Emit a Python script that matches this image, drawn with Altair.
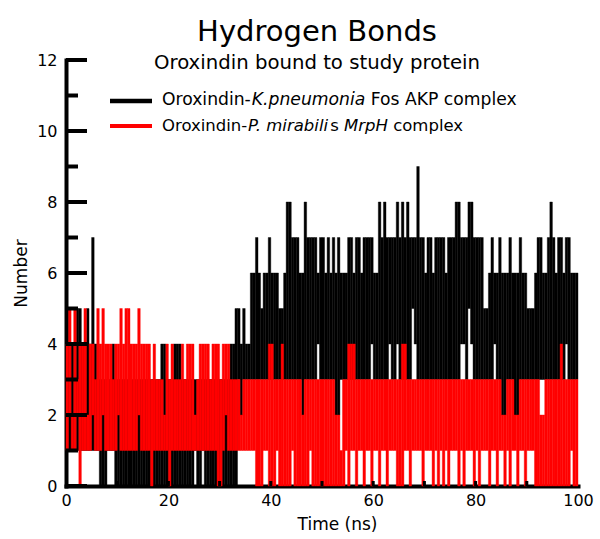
import altair as alt
import pandas as pd

# ---------------- data (0.5 ns bins) ----------------
STEP = 0.5

# Oroxindin-K.pneumonia Fos AKP complex (black): lowest / highest H-bond count per bin
black_hi = [
    5, 4, 4, 4, 5, 5, 4, 4, 5, 4, 7, 4, 4, 3, 3, 3, 3, 3, 4, 3,   # 0-10
    3, 3, 3, 3, 3, 3, 3, 3, 3, 3, 3, 3, 3, 3, 3, 3, 3, 4, 4, 3,   # 10-20
    3, 3, 4, 4, 4, 3, 3, 3, 3, 3, 3, 3, 3, 3, 3, 3, 3, 3, 3, 3,   # 20-30
    3, 3, 3, 3, 4, 4, 5, 5, 4, 5, 4, 4, 6, 6, 7, 6, 5, 6, 6, 7,   # 30-40
    6, 6, 6, 5, 5, 6, 8, 8, 7, 7, 7, 6, 6, 8, 7, 7, 7, 7, 6, 7,   # 40-50
    7, 6, 7, 6, 7, 6, 7, 6, 6, 6, 7, 7, 6, 7, 7, 6, 7, 7, 7, 7,   # 50-60
    6, 6, 8, 7, 8, 7, 7, 7, 7, 8, 7, 8, 7, 8, 7, 7, 7, 9, 7, 7,   # 60-70
    6, 7, 7, 6, 7, 7, 7, 7, 6, 7, 7, 7, 8, 8, 7, 7, 7, 8, 8, 7,   # 70-80
    7, 7, 7, 5, 5, 6, 7, 6, 6, 7, 6, 6, 6, 7, 6, 6, 6, 7, 6, 6,   # 80-90
    5, 5, 5, 6, 7, 7, 6, 6, 7, 8, 7, 6, 7, 7, 6, 7, 7, 6, 6, 6,   # 90-100
]
black_lo = [
    1, 1, 1, 1, 1, 1, 1, 1, 1, 1, 1, 1, 1, 0, 0, 0, 1, 1, 1, 0,
    0, 0, 0, 0, 0, 0, 0, 0, 0, 0, 0, 0, 0, 0, 0, 0, 0, 0, 0, 0,
    0, 0, 0, 0, 0, 0, 0, 0, 0, 0, 1, 0, 0, 1, 0, 0, 0, 0, 0, 0,
    0, 0, 0, 0, 0, 0, 0, 3, 2, 3, 3, 3, 3, 3, 3, 3, 3, 3, 3, 3,
    3, 3, 3, 3, 3, 3, 3, 3, 3, 3, 3, 3, 2, 3, 3, 3, 3, 3, 4, 3,
    3, 3, 3, 3, 3, 2, 2, 3, 3, 3, 3, 3, 3, 3, 3, 3, 3, 3, 3, 4,
    3, 3, 3, 3, 3, 3, 4, 3, 3, 4, 3, 3, 3, 3, 3, 5, 4, 3, 3, 3,
    3, 3, 3, 3, 3, 3, 3, 3, 3, 3, 3, 3, 3, 3, 4, 4, 3, 5, 4, 3,
    3, 3, 3, 3, 3, 3, 3, 4, 3, 3, 2, 2, 3, 3, 3, 2, 2, 3, 3, 3,
    3, 3, 3, 3, 3, 3, 3, 3, 3, 3, 3, 3, 3, 3, 3, 4, 3, 3, 3, 3,
]

# Oroxindin-P. mirabilis MrpH complex (red)
red_hi = [
    4, 5, 2, 5, 3, 4, 4, 5, 2, 4, 4, 3, 5, 4, 5, 4, 4, 4, 3, 4,
    4, 5, 4, 5, 5, 4, 4, 4, 5, 4, 4, 4, 4, 3, 4, 3, 3, 3, 2, 4,
    3, 4, 3, 3, 3, 4, 3, 4, 4, 4, 2, 3, 4, 4, 4, 4, 3, 4, 4, 4,
    3, 4, 4, 4, 3, 3, 3, 3, 2, 3, 3, 3, 3, 3, 3, 3, 3, 3, 3, 4,
    4, 3, 3, 3, 4, 3, 3, 3, 3, 3, 3, 3, 2, 3, 3, 3, 3, 3, 3, 3,
    3, 3, 3, 3, 3, 2, 2, 1, 3, 3, 4, 4, 4, 3, 3, 3, 3, 3, 3, 3,
    3, 3, 3, 3, 3, 3, 3, 3, 3, 3, 3, 4, 4, 3, 3, 3, 3, 3, 3, 3,
    3, 3, 3, 3, 3, 3, 3, 3, 3, 3, 3, 3, 3, 3, 3, 3, 3, 3, 3, 3,
    3, 3, 3, 3, 3, 3, 3, 3, 3, 3, 2, 2, 3, 3, 3, 2, 2, 3, 3, 3,
    3, 3, 3, 3, 3, 2, 2, 3, 3, 3, 3, 3, 3, 4, 3, 3, 3, 3, 3, 3,
]
red_lo = [
    1, 2, 1, 1, 2, 0, 1, 1, 1, 1, 2, 1, 1, 1, 2, 1, 1, 1, 1, 1,
    2, 1, 1, 1, 1, 1, 1, 1, 2, 1, 1, 1, 1, 0, 1, 1, 1, 1, 1, 1,
    0, 1, 1, 1, 1, 1, 1, 1, 1, 1, 1, 1, 1, 1, 1, 1, 1, 1, 1, 0,
    0, 1, 2, 1, 1, 1, 1, 1, 1, 1, 1, 1, 1, 1, 0, 0, 0, 1, 1, 0,
    0, 0, 1, 0, 0, 0, 0, 0, 1, 0, 0, 0, 0, 0, 0, 1, 0, 0, 0, 0,
    0, 0, 0, 0, 0, 0, 0, 0, 0, 1, 0, 1, 1, 0, 1, 1, 0, 1, 1, 0,
    1, 1, 0, 1, 1, 0, 1, 1, 1, 0, 0, 0, 1, 1, 0, 1, 1, 1, 1, 0,
    1, 1, 1, 0, 1, 0, 1, 0, 1, 0, 1, 1, 1, 0, 1, 0, 1, 1, 1, 0,
    1, 0, 1, 1, 1, 0, 1, 1, 0, 1, 1, 0, 1, 0, 1, 1, 0, 1, 1, 0,
    1, 1, 1, 0, 0, 0, 0, 0, 0, 0, 0, 0, 0, 0, 0, 0, 0, 1, 0, 0,
]

x_labels = [0, 20, 40, 60, 80, 100]
x_small_ticks = [10, 20, 30, 40, 50, 60, 70, 80, 90]
y_major = [0, 2, 4, 6, 8, 10, 12]
y_minor = [1, 3, 5, 7, 9, 11]

# ---------------- build ----------------
n = len(black_hi)
t0 = [i * STEP for i in range(n)]
df = pd.DataFrame({
    "t": t0,
    "t_end": [v + STEP for v in t0],
    "black_lo": black_lo, "black_hi": black_hi,
    "red_lo": red_lo, "red_hi": red_hi,
})

FONT = "DejaVu Sans"
W, H = 512, 426
xs = alt.Scale(domain=[0, 100], nice=False, zero=False)
ys = alt.Scale(domain=[0, 12], nice=False, zero=False)

AX = alt.Axis(values=x_labels, format="d", tickSize=0, labelFont=FONT, labelFontSize=16,
              labelColor="black", labelPadding=6, labelFlush=False, domainColor="black",
              domainWidth=4, domainCap="square", grid=False, title="Time (ns)",
              titleFont=FONT, titleFontSize=17, titleFontWeight="normal",
              titleColor="black", titlePadding=8, titleX=271)
AY = alt.Axis(values=y_major, format="d", tickSize=0, labelFont=FONT, labelFontSize=16,
              labelColor="black", labelPadding=9, labelFlush=False, domainColor="black",
              domainWidth=4, domainCap="square", grid=False, title="Number",
              titleFont=FONT, titleFontSize=17, titleFontWeight="normal",
              titleColor="black", titlePadding=6)

base = alt.Chart(df)
black = base.mark_rect(color="black", stroke="black", strokeWidth=0.4).encode(
    x=alt.X("t:Q", scale=xs, axis=AX),
    x2="t_end:Q",
    y=alt.Y("black_lo:Q", scale=ys, axis=AY),
    y2="black_hi:Q",
)
red = base.mark_rect(color="#ff0000", stroke="#ff0000", strokeWidth=0.4).encode(
    x=alt.X("t:Q", scale=xs, axis=AX),
    x2="t_end:Q",
    y=alt.Y("red_lo:Q", scale=ys, axis=AY),
    y2="red_hi:Q",
)

ymaj = alt.Chart(pd.DataFrame({"v": y_major})).mark_rule(color="black", strokeWidth=4).encode(
    y=alt.Y("v:Q", scale=ys, axis=AY), x=alt.value(0), x2=alt.value(21))
ymin = alt.Chart(pd.DataFrame({"v": y_minor})).mark_rule(color="black", strokeWidth=4).encode(
    y=alt.Y("v:Q", scale=ys, axis=AY), x=alt.value(0), x2=alt.value(12))
xmin = alt.Chart(pd.DataFrame({"v": x_small_ticks})).mark_rule(color="black", strokeWidth=3).encode(
    x=alt.X("v:Q", scale=xs, axis=AX), y=alt.value(H), y2=alt.value(H - 5))

one = pd.DataFrame({"k": [0]})
leg_black = alt.Chart(one).mark_rule(color="black", strokeWidth=4.5).encode(
    x=alt.value(44), x2=alt.value(86), y=alt.value(41))
leg_red = alt.Chart(one).mark_rule(color="#ff0000", strokeWidth=4).encode(
    x=alt.value(44), x2=alt.value(86), y=alt.value(66))


def seg(txt, x, y, size, italic=False):
    return alt.Chart(one).mark_text(
        align="left", baseline="alphabetic", font=FONT, fontSize=size,
        fontStyle="italic" if italic else "normal", color="black",
    ).encode(x=alt.value(x), y=alt.value(y), text=alt.value(txt))


s1 = 17.2
row1 = [
    seg("Oroxindin-", 96, 45, s1),
    seg("K.pneumonia", 96 + 89.8, 45, s1, True),
    seg("Fos AKP complex", 96 + 89.8 + 113.5 + 5.5, 45, s1),
]
s2 = 16.5
row2 = [
    seg("Oroxindin-", 96, 71, s2),
    seg("P. mirabili", 96 + 86.1, 71, s2, True),
    seg("s", 96 + 86.1 + 82.2, 71, s2),
    seg("MrpH", 96 + 86.1 + 82.2 + 8.6 + 5.2, 71, s2, True),
    seg("complex", 96 + 86.1 + 82.2 + 8.6 + 5.2 + 43.9 + 5.2, 71, s2),
]

chart = alt.layer(
    black, red, ymaj, ymin, xmin, leg_black, leg_red, *row1, *row2
).properties(
    width=W, height=H,
    title=alt.TitleParams(
        text="Hydrogen Bonds", subtitle="Oroxindin bound to study protein",
        anchor="middle", frame="group", font=FONT, subtitleFont=FONT,
        fontSize=29, subtitleFontSize=19.7, fontWeight="normal",
        color="black", subtitleColor="black", offset=-21, subtitlePadding=6, dx=-5,
    ),
    autosize=alt.AutoSizeParams(type="none"),
    padding={"left": 66, "top": 60, "right": 22, "bottom": 53},
).configure_view(stroke=None)

chart.save("out.html", embed_options={"renderer": "svg", "actions": False})
